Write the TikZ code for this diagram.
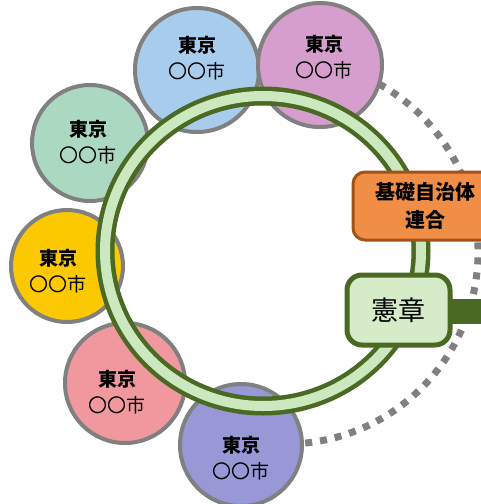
\documentclass[tikz,border=0pt]{standalone}
\usepackage{fontspec}
\newfontfamily\jp{Noto Sans CJK JP}
\definecolor{edgegray}{RGB}{128,128,128}
\definecolor{cblue}{RGB}{168,204,236}
\definecolor{cpink}{RGB}{214,158,204}
\definecolor{cgreen}{RGB}{170,216,192}
\definecolor{cyellow}{RGB}{252,200,0}
\definecolor{cred}{RGB}{240,152,158}
\definecolor{cpurple}{RGB}{152,152,214}
\definecolor{ringdark}{RGB}{74,106,36}
\definecolor{ringlight}{RGB}{204,232,190}
\definecolor{orgfill}{RGB}{240,142,70}
\definecolor{orgedge}{RGB}{160,82,24}
\definecolor{kenfill}{RGB}{214,236,200}
\begin{document}
\begin{tikzpicture}[x=1pt,y=-1pt,
  citycircle/.style={circle, draw=edgegray, line width=4pt, minimum size=#1, inner sep=0pt},
  citytext/.style={align=center, font=\jp\fontsize{19}{26}\selectfont, inner sep=0pt},
  dotline/.style={draw=edgegray, line width=7pt, dash pattern=on 7pt off 8pt},
  orgbox/.style={draw=orgedge, fill=orgfill, line width=3pt, rounded corners=12pt,
    minimum width=144pt, minimum height=68pt, align=center, inner sep=0pt,
    font=\jp\bfseries\fontsize{20}{28}\selectfont},
  kenbox/.style={draw=ringdark, fill=kenfill, line width=5pt, rounded corners=15pt,
    minimum width=103pt, minimum height=70pt, inner sep=0pt,
    font=\jp\fontsize{27}{30}\selectfont}
]
\useasboundingbox (0,0) rectangle (481,504);
\clip (0,0) rectangle (481,504);
\fill[white] (0,0) rectangle (481,504);

% dotted arc
\coordinate (dotc) at (286,252);
\draw[dotline] (dotc) ++(-70:192) arc[start angle=-70, end angle=100, radius=192];

% city circles
\node[citycircle=124pt, fill=cblue] (c1) at (197,70) {};
\node[citycircle=124pt, fill=cpink] (c2) at (320,65) {};
\node[citycircle=116pt, fill=cgreen] (c3) at (90,143) {};
\node[citycircle=112pt, fill=cyellow] (c4) at (67,266) {};
\node[citycircle=120pt, fill=cred] (c5) at (125,383) {};
\node[citycircle=122pt, fill=cpurple] (c6) at (241,445) {};

% ring
\coordinate (ringc) at (263,251);
\draw[ringdark, line width=19pt] (ringc) ellipse [x radius=158, y radius=155];
\draw[ringlight, line width=10pt] (ringc) ellipse [x radius=158, y radius=155];

% city labels
\node[citytext] (t1) at (197,58) {{\bfseries 東京}\\〇〇市};
\node[citytext] (t2) at (324,57) {{\bfseries 東京}\\〇〇市};
\node[citytext] (t3) at (88,142) {{\bfseries 東京}\\〇〇市};
\node[citytext] (t4) at (58,271) {{\bfseries 東京}\\〇〇市};
\node[citytext] (t5) at (117,392) {{\bfseries 東京}\\〇〇市};
\node[citytext] (t6) at (241,458) {{\bfseries 東京}\\〇〇市};

% boxes
\node[orgbox] (org) at (425,206) {基礎自治体\\連合};
\node[kenbox] (ken) at (398.5,310) {憲章};
\coordinate (barend) at (490,311);
\draw[ringdark, line width=25pt] (ken.east) ++(-3,1) -- (barend);
\end{tikzpicture}
\end{document}
